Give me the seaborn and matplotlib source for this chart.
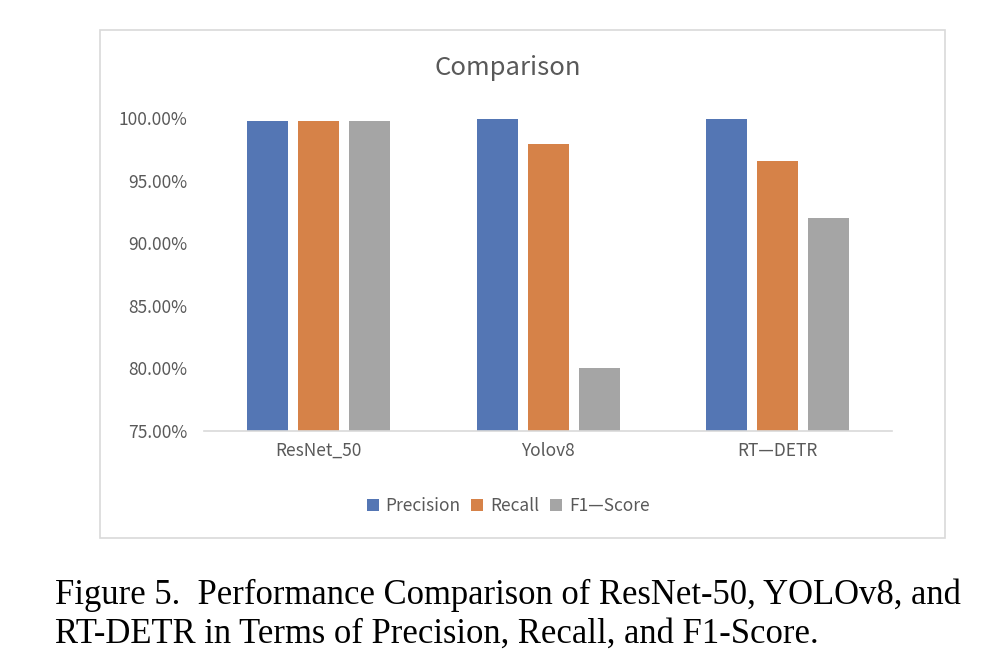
import pandas as pd
import seaborn as sns
import matplotlib.pyplot as plt
from matplotlib.patches import Rectangle
from matplotlib.ticker import FuncFormatter

models = ["ResNet_50", "Yolov8", "RT\u2014DETR"]
metrics = ["Precision", "Recall", "F1\u2014Score"]
precision = [0.998, 0.999, 0.999]
recall = [0.998, 0.979, 0.966]
f1_score = [0.998, 0.800, 0.920]
y_ticks = [0.75, 0.80, 0.85, 0.90, 0.95, 1.00]

caption = ("Figure 5.  Performance Comparison of ResNet-50, YOLOv8, and\n"
           "RT-DETR in Terms of Precision, Recall, and F1-Score.")

rows = []
for i, m in enumerate(models):
    rows.append((m, metrics[0], precision[i]))
    rows.append((m, metrics[1], recall[i]))
    rows.append((m, metrics[2], f1_score[i]))
df = pd.DataFrame(rows, columns=["model", "metric", "value"])

sns.set_style("white")
plt.rcParams["font.family"] = ["Noto Sans CJK KR", "DejaVu Sans"]

fig = plt.figure(figsize=(10.02, 6.64), dpi=100)
fig.patches.append(Rectangle((0.0998, 0.1898), 0.843, 0.765, transform=fig.transFigure,
                             fill=False, edgecolor="#D9D9D9", linewidth=1.2))

ax = fig.add_axes([0.2036, 0.351, 0.687, 0.471])
palette = ["#4472C4", "#ED7D31", "#A5A5A5"]
sns.barplot(data=df, x="model", y="value", hue="metric", palette=palette,
            width=0.667, gap=0.2, linewidth=0, ax=ax, legend=True)

ax.set_ylim(0.75, 1.0)
ax.set_yticks(y_ticks)
ax.yaxis.set_major_formatter(FuncFormatter(lambda v, p: f"{v*100:.2f}%"))
ax.set_xlabel("")
ax.set_ylabel("")
ax.tick_params(axis="both", length=0, labelsize=12.5, colors="#595959", pad=8)
ax.tick_params(axis="y", pad=12)
for s in ["top", "right", "left"]:
    ax.spines[s].set_visible(False)
ax.spines["bottom"].set_color("#D9D9D9")
ax.spines["bottom"].set_linewidth(1.2)

ax.legend(loc="center", bbox_to_anchor=(0.507, 0.238), bbox_transform=fig.transFigure,
          ncol=3, frameon=False, fontsize=12.5, handlelength=0.7, handleheight=0.7,
          handletextpad=0.4, columnspacing=0.6, labelcolor="#595959")

fig.text(0.507, 0.898, "Comparison", ha="center", va="center", fontsize=18.5, color="#595959")
fig.text(0.055, 0.0745, caption, ha="left", va="center", fontsize=24.9,
         family="Liberation Serif", linespacing=1.25, color="black")

fig.savefig("out.png", dpi=100)
